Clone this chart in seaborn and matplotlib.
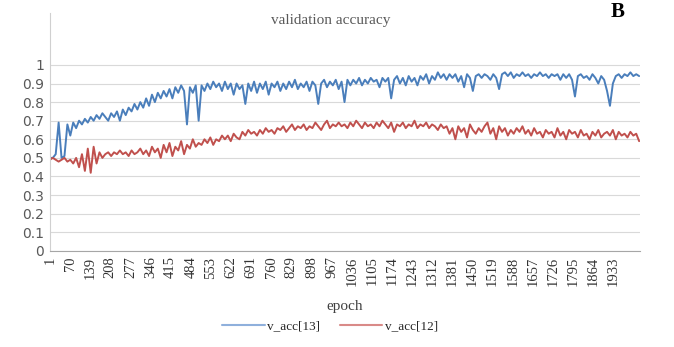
import numpy as np
import pandas as pd
import matplotlib
matplotlib.use('Agg')
import matplotlib.pyplot as plt
import seaborn as sns

# values, one point every 10 epochs
epochs = np.arange(1, 2031, 10)

v_acc13 = [
    0.50, 0.50, 0.52, 0.69, 0.50, 0.51, 0.68, 0.62, 0.69, 0.66,
    0.70, 0.68, 0.71, 0.69, 0.72, 0.70, 0.73, 0.71, 0.74, 0.72,
    0.70, 0.74, 0.72, 0.75, 0.70, 0.76, 0.73, 0.77, 0.75, 0.79,
    0.76, 0.80, 0.77, 0.82, 0.78, 0.84, 0.80, 0.85, 0.82, 0.86,
    0.83, 0.87, 0.82, 0.88, 0.85, 0.89, 0.86, 0.68, 0.88, 0.85,
    0.89, 0.70, 0.89, 0.86, 0.90, 0.87, 0.91, 0.88, 0.90, 0.86,
    0.91, 0.87, 0.90, 0.84, 0.90, 0.87, 0.89, 0.79, 0.90, 0.86,
    0.91, 0.85, 0.90, 0.87, 0.91, 0.84, 0.90, 0.88, 0.91, 0.86,
    0.90, 0.87, 0.91, 0.88, 0.92, 0.87, 0.90, 0.88, 0.91, 0.86,
    0.91, 0.89, 0.79, 0.90, 0.92, 0.88, 0.91, 0.89, 0.92, 0.87,
    0.91, 0.80, 0.92, 0.89, 0.92, 0.90, 0.93, 0.89, 0.92, 0.90,
    0.93, 0.91, 0.92, 0.88, 0.93, 0.91, 0.93, 0.82, 0.92, 0.94,
    0.90, 0.93, 0.89, 0.94, 0.91, 0.93, 0.89, 0.94, 0.92, 0.95,
    0.90, 0.94, 0.92, 0.96, 0.93, 0.95, 0.92, 0.95, 0.93, 0.95,
    0.91, 0.94, 0.88, 0.95, 0.93, 0.86, 0.94, 0.95, 0.93, 0.95,
    0.94, 0.92, 0.95, 0.93, 0.87, 0.95, 0.96, 0.94, 0.96, 0.93,
    0.95, 0.94, 0.96, 0.94, 0.95, 0.93, 0.95, 0.94, 0.96, 0.94,
    0.95, 0.93, 0.95, 0.94, 0.95, 0.92, 0.95, 0.93, 0.95, 0.92,
    0.83, 0.94, 0.95, 0.93, 0.94, 0.92, 0.95, 0.93, 0.90, 0.94,
    0.92, 0.86, 0.78, 0.90, 0.94, 0.95, 0.93, 0.95, 0.94, 0.96,
    0.94, 0.95, 0.94,
]

v_acc12 = [
    0.49, 0.50, 0.49, 0.48, 0.49, 0.50, 0.48, 0.49, 0.47, 0.50,
    0.45, 0.52, 0.43, 0.55, 0.42, 0.56, 0.47, 0.53, 0.50, 0.52,
    0.53, 0.51, 0.53, 0.52, 0.54, 0.52, 0.53, 0.51, 0.54, 0.52,
    0.53, 0.55, 0.52, 0.54, 0.51, 0.56, 0.53, 0.55, 0.50, 0.57,
    0.53, 0.58, 0.51, 0.56, 0.54, 0.59, 0.52, 0.57, 0.55, 0.60,
    0.56, 0.58, 0.57, 0.60, 0.58, 0.61, 0.57, 0.60, 0.59, 0.62,
    0.60, 0.62, 0.59, 0.63, 0.61, 0.60, 0.64, 0.62, 0.65, 0.63,
    0.64, 0.62, 0.65, 0.63, 0.66, 0.64, 0.65, 0.63, 0.66, 0.65,
    0.67, 0.64, 0.66, 0.68, 0.65, 0.67, 0.66, 0.68, 0.65, 0.67,
    0.66, 0.69, 0.67, 0.65, 0.68, 0.70, 0.66, 0.68, 0.67, 0.69,
    0.67, 0.68, 0.66, 0.69, 0.67, 0.70, 0.68, 0.66, 0.69, 0.67,
    0.68, 0.66, 0.69, 0.67, 0.70, 0.68, 0.66, 0.69, 0.64, 0.68,
    0.67, 0.69, 0.66, 0.68, 0.67, 0.70, 0.66, 0.68, 0.67, 0.69,
    0.66, 0.68, 0.67, 0.65, 0.68, 0.66, 0.67, 0.63, 0.66, 0.60,
    0.67, 0.64, 0.66, 0.61, 0.68, 0.65, 0.63, 0.66, 0.64, 0.67,
    0.69, 0.63, 0.66, 0.60, 0.67, 0.64, 0.66, 0.62, 0.65, 0.63,
    0.66, 0.64, 0.67, 0.63, 0.65, 0.62, 0.66, 0.63, 0.64, 0.61,
    0.65, 0.63, 0.64, 0.61, 0.66, 0.62, 0.64, 0.60, 0.65, 0.63,
    0.64, 0.61, 0.65, 0.62, 0.63, 0.60, 0.64, 0.62, 0.65, 0.61,
    0.63, 0.64, 0.62, 0.65, 0.60, 0.64, 0.62, 0.63, 0.61, 0.64,
    0.62, 0.63, 0.59,
]

xtick_labels = [1, 70, 139, 208, 277, 346, 415, 484, 553, 622, 691, 760,
                829, 898, 967, 1036, 1105, 1174, 1243, 1312, 1381, 1450,
                1519, 1588, 1657, 1726, 1795, 1864, 1933]
yticks = [0, 0.1, 0.2, 0.3, 0.4, 0.5, 0.6, 0.7, 0.8, 0.9, 1]

df = pd.DataFrame({
    'epoch': np.concatenate([epochs, epochs]),
    'acc': v_acc13 + v_acc12,
    'series': ['v_acc[13]'] * len(v_acc13) + ['v_acc[12]'] * len(v_acc12),
})

sns.set_style('white')
serif = ['Liberation Serif', 'DejaVu Serif']

fig = plt.figure(figsize=(6.74, 3.47), dpi=100)
ax = fig.add_axes([0.074, 0.277, 0.876, 0.686])

sns.lineplot(data=df, x='epoch', y='acc', hue='series',
             palette={'v_acc[13]': '#4a7ebb', 'v_acc[12]': '#c0504d'},
             linewidth=1.4, estimator=None, legend=False, ax=ax)

ax.set_xlim(1, 2025)
ax.set_ylim(0, 1.28)
ax.set_yticks(yticks)
ax.set_yticklabels(['0', '0.1', '0.2', '0.3', '0.4', '0.5', '0.6', '0.7', '0.8', '0.9', '1'],
                   color='#595959', fontsize=10)
ax.set_xticks(xtick_labels)
ax.set_xticklabels([str(t) for t in xtick_labels], rotation=90,
                   fontsize=10.5, family=serif, color='#333333')
ax.tick_params(length=0, pad=4)
ax.grid(axis='y', color='#d9d9d9', linewidth=0.8)
ax.set_axisbelow(True)
for s in ['top', 'right']:
    ax.spines[s].set_visible(False)
ax.spines['left'].set_color('#d0d0d0')
ax.spines['bottom'].set_color('#a6a6a6')

ax.set_xlabel('epoch', family=serif, fontsize=11, color='#404040', labelpad=10)
ax.set_ylabel('')

fig.text(0.49, 0.94, 'validation accuracy', family=serif, fontsize=11,
         color='#595959', ha='center', va='center')
fig.text(0.917, 0.965, 'B', family=serif, fontsize=15, fontweight='bold',
         color='black', ha='center', va='center')

handles = [plt.Line2D([], [], color='#8fb0dc', lw=1.5),
           plt.Line2D([], [], color='#d98a88', lw=1.5)]
fig.legend(handles, ['v_acc[13]', 'v_acc[12]'], loc='center',
           bbox_to_anchor=(0.49, 0.06), ncol=2, frameon=False,
           prop={'family': serif, 'size': 9.5}, handlelength=3.2,
           handletextpad=0.2, columnspacing=1.5)

fig.savefig('out.png', dpi=100)
